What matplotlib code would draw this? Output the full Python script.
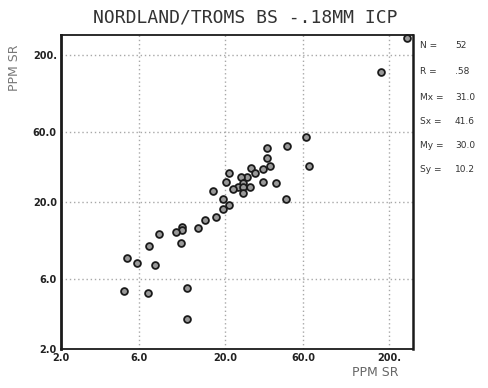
import matplotlib
matplotlib.use("Agg")
import matplotlib.pyplot as plt

# Data (ppm Sr, log-log)
x_ppm = [62.4, 48.0, 36.2, 35.9, 37.6, 34.2, 28.9, 30.6, 21.2, 27.4,
         24.9, 20.3, 34.0, 40.9, 25.9, 24.0, 22.5, 25.9, 28.4, 25.6,
         64.7, 47.1, 16.8, 19.5, 21.2, 19.5, 17.5, 15.2, 13.7, 10.9,
         10.9, 10.0, 7.9, 6.85, 10.8, 5.07, 5.79, 7.52, 4.84, 6.78,
         11.8, 11.7, 178.7, 257.0]
y_ppm = [55.1, 48.1, 46.8, 40.0, 35.2, 33.4, 34.2, 31.6, 31.6, 29.7,
         29.4, 27.5, 27.2, 26.8, 27.1, 25.2, 24.4, 25.4, 25.4, 22.9,
         35.2, 21.1, 23.9, 21.1, 19.0, 18.0, 15.7, 15.1, 13.2, 13.6,
         12.8, 12.4, 12.1, 10.1, 10.5, 8.3, 7.66, 7.42, 4.96, 4.79,
         5.2, 3.21, 153.0, 261.0]

tick_vals = [2, 6, 20, 60, 200]
x_tick_labels = ["2.0", "6.0", "20.0", "60.0", "200."]
y_tick_labels = ["2.0", "6.0", "20.0", "60.0", "200."]

title = "NORDLAND/TROMS BS -.18MM ICP"
stat_names = ["N =", "R =", "Mx =", "Sx =", "My =", "Sy ="]
stat_values = ["52", ".58", "31.0", "41.6", "30.0", "10.2"]

fig = plt.figure(figsize=(4.88, 3.88), dpi=100)
fig.patch.set_facecolor("white")
ax = fig.add_axes([61/488, 39/388, 352/488, 314/388])
ax.set_xscale("log")
ax.set_yscale("log")
ax.set_xlim(2, 280)
ax.set_ylim(2, 273)

for v in tick_vals[1:]:
    ax.axvline(v, color="#a8a8a8", lw=1.0, ls=(0, (1, 2)), zorder=1)
    ax.axhline(v, color="#a8a8a8", lw=1.0, ls=(0, (1, 2)), zorder=1)

ax.scatter(x_ppm, y_ppm, s=24, facecolor="#999999", edgecolor="#1a1a1a",
           linewidth=1.3, zorder=3, clip_on=False)

ax.set_xticks(tick_vals)
ax.set_xticklabels(x_tick_labels)
ax.set_yticks(tick_vals)
ax.set_yticklabels(y_tick_labels)
ax.minorticks_off()
ax.tick_params(length=0, labelsize=7, colors="#222222", pad=3)
for lab in ax.get_xticklabels() + ax.get_yticklabels():
    lab.set_fontweight("bold")

ax.spines["left"].set_linewidth(2.0)
ax.spines["right"].set_linewidth(1.8)
ax.spines["bottom"].set_linewidth(1.3)
ax.spines["top"].set_linewidth(1.3)
for s in ax.spines.values():
    s.set_color("#1a1a1a")

fig.text(245/488, 1 - 18/388, title, ha="center", va="center",
         family="DejaVu Sans Mono", fontsize=13, color="#333333")
fig.text(15/488, 1 - 68/388, "PPM SR", rotation=90, ha="center", va="center",
         fontsize=9, color="#777777")
fig.text(375/488, 1 - 372/388, "PPM SR", ha="center", va="center",
         fontsize=9, color="#666666")

stat_y = [45, 72, 97, 121, 146, 170]
for name, val, yy in zip(stat_names, stat_values, stat_y):
    fig.text(420/488, 1 - yy/388, name, ha="left", va="center",
             fontsize=6.5, color="#333333")
    fig.text(455/488, 1 - yy/388, val, ha="left", va="center",
             fontsize=6.5, color="#333333")

fig.savefig("out.png", dpi=100)
